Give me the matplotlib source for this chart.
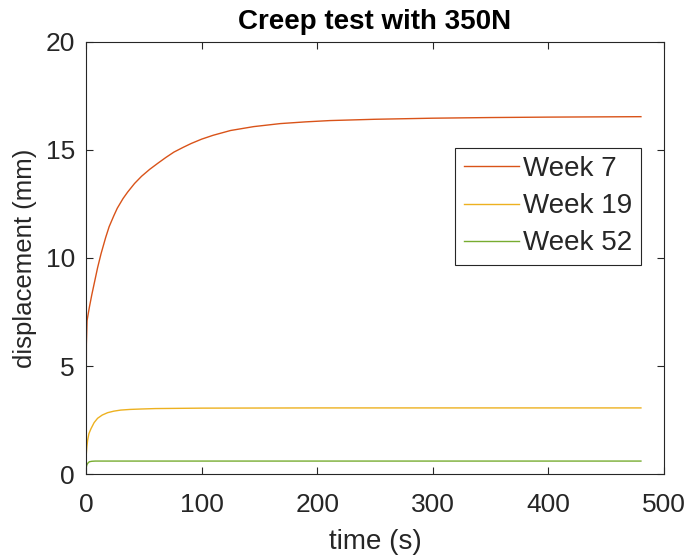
import matplotlib
matplotlib.use("Agg")
import matplotlib.pyplot as plt

# creep test readings, displacement in mm over time in s
week7_time = [0, 0.3, 0.9, 2, 3, 5, 7, 10, 13, 17, 20, 24, 27, 32, 36, 42, 48, 55,
              62, 69, 76, 84, 91, 100, 110, 125, 145, 168, 190, 211, 250, 300,
              350, 400, 440, 480]
week7_disp = [0, 6.0, 7.1, 7.45, 7.75, 8.3, 8.8, 9.55, 10.2, 10.95, 11.45, 11.95,
              12.3, 12.75, 13.05, 13.45, 13.78, 14.1, 14.38, 14.65, 14.9, 15.12,
              15.3, 15.5, 15.68, 15.9, 16.08, 16.22, 16.3, 16.36, 16.42, 16.47,
              16.5, 16.52, 16.53, 16.54]

week19_time = [0, 0.2, 0.7, 1.4, 2.5, 4.3, 7, 10, 14, 18.7, 24, 30, 38, 48, 60, 80,
               100, 200, 300, 400, 480]
week19_disp = [0, 0.9, 1.25, 1.57, 1.87, 2.1, 2.38, 2.58, 2.73, 2.84, 2.91, 2.96,
               2.99, 3.01, 3.03, 3.04, 3.05, 3.06, 3.06, 3.06, 3.06]

week52_time = [0, 0.2, 0.7, 1.5, 2.9, 5, 8, 15, 480]
week52_disp = [0, 0.3, 0.42, 0.5, 0.57, 0.59, 0.6, 0.6, 0.6]

plt.rcParams['font.family'] = ['Liberation Sans', 'DejaVu Sans']
dark = '#262626'

fig = plt.figure(figsize=(6.91, 5.59), dpi=100)
ax = fig.add_axes([0.1245, 0.152, 0.8365, 0.773])

ax.plot(week7_time, week7_disp, color='#D95319', lw=1.0, label='Week 7')
ax.plot(week19_time, week19_disp, color='#EDB120', lw=1.0, label='Week 19')
ax.plot(week52_time, week52_disp, color='#77AC30', lw=1.0, label='Week 52')

ax.set_xlim(0, 500)
ax.set_ylim(0, 20)
ax.set_xticks([0, 100, 200, 300, 400, 500])
ax.set_yticks([0, 5, 10, 15, 20])

ax.tick_params(direction='in', top=True, right=True, length=5, width=0.8,
               labelsize=19, colors=dark)
ax.tick_params(axis='x', pad=14)
ax.tick_params(axis='y', pad=8)
for s in ax.spines.values():
    s.set_color(dark)
    s.set_linewidth(0.8)

ax.set_title('Creep test with 350N', fontsize=20, fontweight='bold', pad=9)
ax.set_xlabel('time (s)', fontsize=20, color=dark, labelpad=8)
ax.set_ylabel('displacement (mm)', fontsize=18.5, color=dark, labelpad=6)

leg = ax.legend(loc='upper right', bbox_to_anchor=(0.96, 0.755), fontsize=20,
                handlelength=2.0, handletextpad=0.15, borderpad=0.3,
                labelspacing=0.4, fancybox=False, framealpha=1,
                borderaxespad=0)
leg.get_frame().set_edgecolor(dark)
leg.get_frame().set_linewidth(0.8)
for t in leg.get_texts():
    t.set_color(dark)

fig.savefig('out.png', dpi=100)
